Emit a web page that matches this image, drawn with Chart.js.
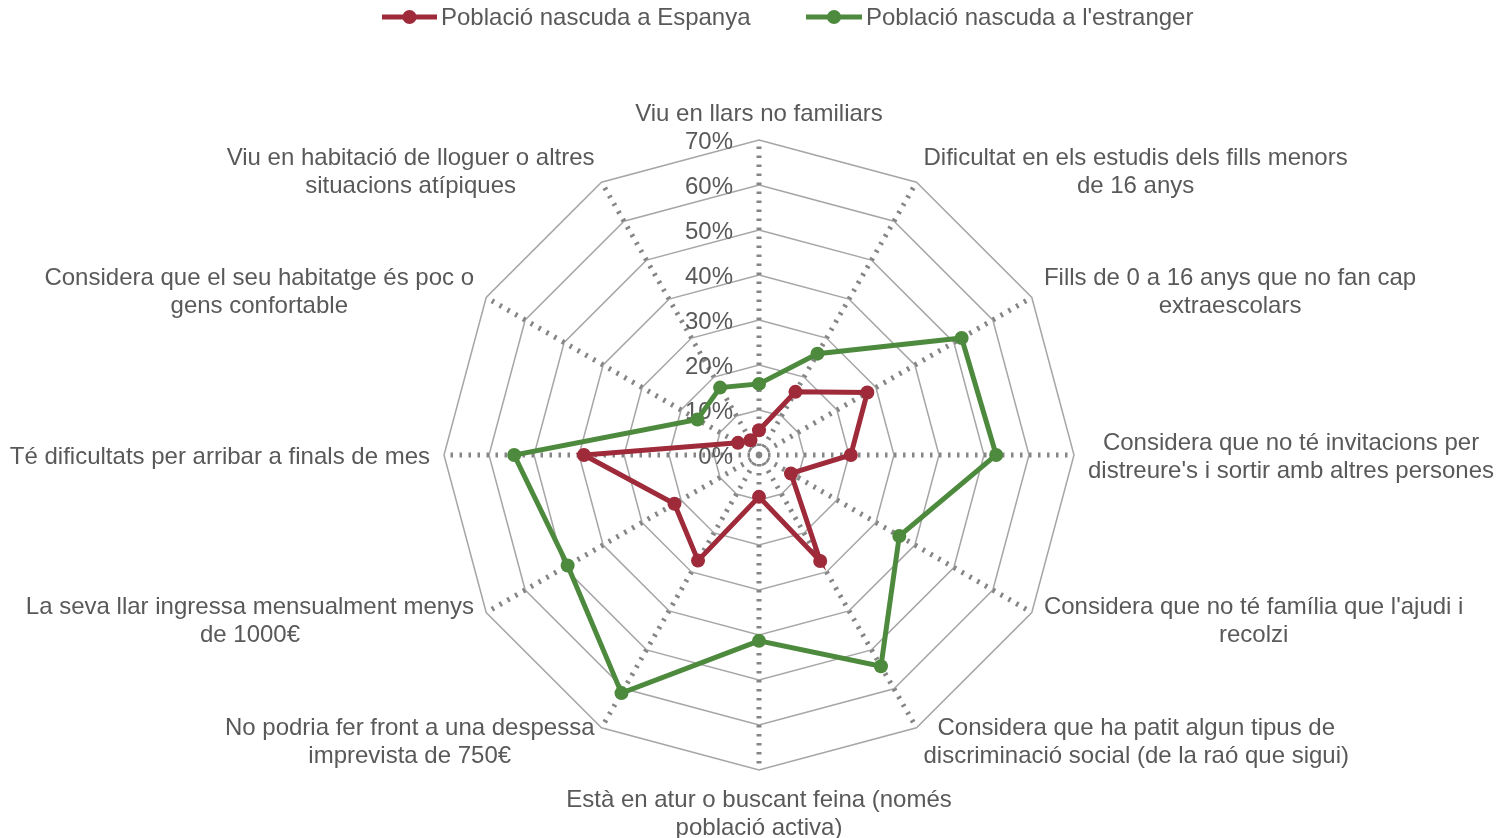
<!DOCTYPE html>
<html>
<head>
<meta charset="utf-8">
<script src="https://cdn.jsdelivr.net/npm/chart.js@4"></script>
<style>
html,body{margin:0;padding:0;background:#fff;}
#wrap{width:1497px;height:838px;position:relative;}
</style>
</head>
<body>
<div id="wrap"><canvas id="c" width="1497" height="838"></canvas></div>
<script>
const categories = [
  ["Viu en llars no familiars"],
  ["Dificultat en els estudis dels fills menors", "de 16 anys"],
  ["Fills de 0 a 16 anys que no fan cap", "extraescolars"],
  ["Considera que no té invitacions per", "distreure's i sortir amb altres persones"],
  ["Considera que no té família que l'ajudi i", "recolzi"],
  ["Considera que ha patit algun tipus de", "discriminació social (de la raó que sigui)"],
  ["Està en atur o buscant feina (només", "població activa)"],
  ["No podria fer front a una despessa", "imprevista de 750€"],
  ["La seva llar ingressa mensualment menys", "de 1000€"],
  ["Té dificultats per arribar a finals de mes"],
  ["Considera que el seu habitatge és poc o", "gens confortable"],
  ["Viu en habitació de lloguer o altres", "situacions atípiques"]
];
const seriesNames = ["Població nascuda a Espanya", "Població nascuda a l'estranger"];
const spainValues = [5.5, 16.2, 27.8, 20.4, 8.2, 27.2, 9.3, 27.1, 21.7, 38.9, 5.4, 3.8];
const foreignValues = [15.8, 26.0, 52.0, 52.7, 36.0, 54.2, 41.3, 61.1, 49.1, 54.4, 15.8, 17.3];
const tickValues = [0, 10, 20, 30, 40, 50, 60, 70];
const tickLabels = ["0%", "10%", "20%", "30%", "40%", "50%", "60%", "70%"];

const RED = '#9e2a3a';
const GREEN = '#4d8a3d';
const TEXT = '#595959';
const FONT = '24px "Liberation Sans", Arial, sans-serif';
const TY = 2; // vertical text nudge

const labelsPlugin = {
  id: 'customLabels',
  beforeDatasetsDraw(chart) {
    const scale = chart.scales.r;
    const ctx = chart.ctx;
    ctx.save();
    ctx.font = FONT;
    ctx.fillStyle = TEXT;
    ctx.textAlign = 'right';
    ctx.textBaseline = 'middle';
    tickValues.forEach((v, i) => {
      const d = scale.getDistanceFromCenterForValue(v);
      ctx.fillText(tickLabels[i], scale.xCenter - 26, scale.yCenter - d + TY);
    });
    const outer = scale.getDistanceFromCenterForValue(70);
    const lh = 28;
    categories.forEach((lines, i) => {
      const p = scale.getPointPosition(i, outer + 14);
      const w = Math.max(...lines.map(l => ctx.measureText(l).width));
      const h = lines.length * lh;
      const dx = p.x - scale.xCenter;
      let cx, top;
      if (Math.abs(dx) < 2) {
        cx = p.x;
        top = (p.y < scale.yCenter) ? p.y - h : p.y;
      } else if (dx > 0) {
        cx = p.x + w / 2;
        top = p.y - h / 2;
      } else {
        cx = p.x - w / 2;
        top = p.y - h / 2;
      }
      ctx.textAlign = 'center';
      ctx.textBaseline = 'middle';
      lines.forEach((l, k) => ctx.fillText(l, cx, top + lh / 2 + k * lh + TY));
    });
    ctx.restore();
  },
  afterDraw(chart) {
    const ctx = chart.ctx;
    ctx.save();
    const items = [
      {x1: 382, x2: 437, color: RED, tx: 441, name: seriesNames[0]},
      {x1: 806, x2: 862, color: GREEN, tx: 866, name: seriesNames[1]}
    ];
    const y = 17;
    items.forEach(it => {
      ctx.strokeStyle = it.color;
      ctx.lineWidth = 5;
      ctx.beginPath();
      ctx.moveTo(it.x1, y);
      ctx.lineTo(it.x2, y);
      ctx.stroke();
      ctx.fillStyle = it.color;
      ctx.beginPath();
      ctx.arc((it.x1 + it.x2) / 2, y, 7, 0, Math.PI * 2);
      ctx.fill();
      ctx.fillStyle = TEXT;
      ctx.font = FONT;
      ctx.textAlign = 'left';
      ctx.textBaseline = 'middle';
      ctx.fillText(it.name, it.tx, y + 1);
    });
    ctx.restore();
  }
};

new Chart(document.getElementById('c'), {
  type: 'radar',
  data: {
    labels: categories,
    datasets: [
      {
        label: seriesNames[1],
        data: foreignValues,
        borderColor: GREEN,
        backgroundColor: GREEN,
        pointBackgroundColor: GREEN,
        pointBorderColor: GREEN,
        borderWidth: 5,
        pointRadius: 7,
        pointBorderWidth: 0,
        fill: false,
        tension: 0
      },
      {
        label: seriesNames[0],
        data: spainValues,
        borderColor: RED,
        backgroundColor: RED,
        pointBackgroundColor: RED,
        pointBorderColor: RED,
        borderWidth: 5,
        pointRadius: 7,
        pointBorderWidth: 0,
        fill: false,
        tension: 0
      }
    ]
  },
  options: {
    responsive: false,
    animation: false,
    events: [],
    layout: { padding: { left: 444, right: 423, top: 140, bottom: 68 } },
    plugins: { legend: { display: false }, tooltip: { enabled: false } },
    scales: {
      r: {
        min: 0,
        max: 70,
        ticks: { display: false, stepSize: 10 },
        pointLabels: { display: false },
        grid: { circular: false, color: '#a6a6a6', lineWidth: 1.5 },
        angleLines: { display: true, color: '#858585', lineWidth: 5, borderDash: [2.5, 6.5] }
      }
    }
  },
  plugins: [labelsPlugin]
});
</script>
</body>
</html>
